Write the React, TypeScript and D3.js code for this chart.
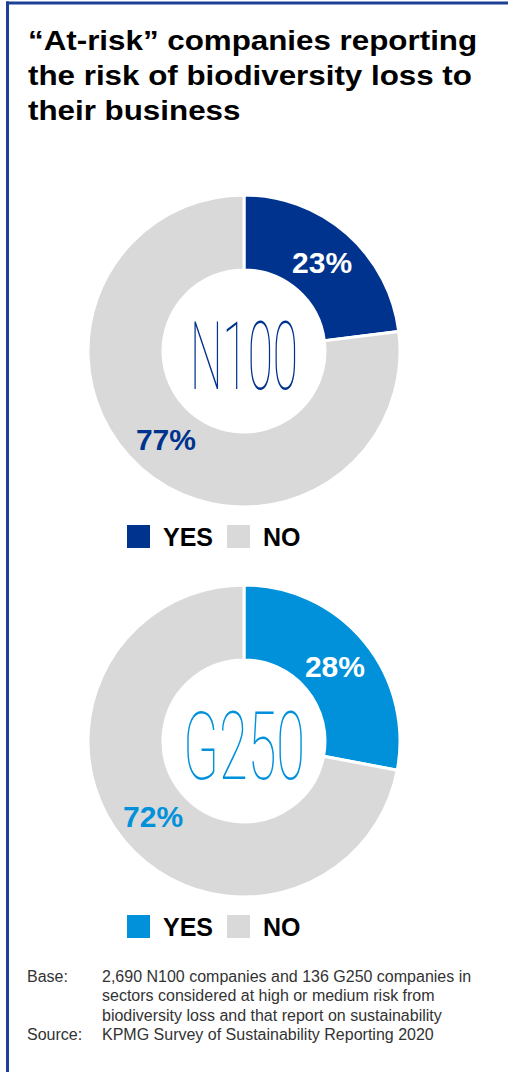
import React from "react";
import * as d3 from "d3";

const titleLines = ["“At-risk” companies reporting", "the risk of biodiversity loss to", "their business"];
const groups = ["N100", "G250"];
const categories = ["YES", "NO"];
const n100Values = [23, 77];
const g250Values = [28, 72];
const yesColors = ["#00338D", "#0091DA"];
const noColor = "#D9D9D9";
const footLabels = ["Base:", "", "", "Source:"];
const footTexts = [
  "2,690 N100 companies and 136 G250 companies in",
  "sectors considered at high or medium risk from",
  "biodiversity loss and that report on sustainability",
  "KPMG Survey of Sustainability Reporting 2020",
];

const W = 508;
const H = 1072;
const border = "#1E3F96";

function Donut({ cx, cy, values, color, name }: { cx: number; cy: number; values: number[]; color: string; name: string }) {
  const outerR = 156;
  const innerR = 81;
  const pie = d3.pie<number>().sort(null).value((d) => d);
  const arcs = pie(values);
  const arc = d3.arc<d3.PieArcDatum<number>>().innerRadius(innerR).outerRadius(outerR);
  const labelArc = d3.arc<d3.PieArcDatum<number>>().innerRadius(118).outerRadius(118);
  const fills = [color, noColor];
  const labelFills = ["#FFFFFF", color];
  const fs = 30;
  return (
    <g transform={`translate(${cx},${cy})`}>
      {arcs.map((a, i) => (
        <path key={i} d={arc(a) || ""} fill={fills[i]} stroke="#FFFFFF" strokeWidth={3} />
      ))}
      {arcs.map((a, i) => {
        const [x, y] = labelArc.centroid(a);
        return (
          <text key={"l" + i} x={x} y={y + fs * 0.36} textAnchor="middle" fontFamily="Liberation Sans, Arial, sans-serif" fontWeight="bold" fontSize={fs} fill={labelFills[i]}>
            {values[i]}%
          </text>
        );
      })}
      <text x={0} y={38} textAnchor="middle" fontFamily="Roboto, DejaVu Sans, sans-serif" fontWeight={100} fontSize={94} fill={color} textLength={name === "N100" ? 108 : 122} lengthAdjust="spacingAndGlyphs">
        {name}
      </text>
    </g>
  );
}

function Legend({ y, color }: { y: number; color: string }) {
  const x = d3.scaleOrdinal<string, number>().domain(categories).range([127, 227]);
  const fills = [color, noColor];
  return (
    <g>
      {categories.map((c, i) => (
        <g key={c}>
          <rect x={x(c)} y={y} width={23} height={23} fill={fills[i]} />
          <text x={(x(c) as number) + 36} y={y + 21} fontFamily="Liberation Sans, Arial, sans-serif" fontWeight="bold" fontSize={25} fill="#000">
            {c}
          </text>
        </g>
      ))}
    </g>
  );
}

export default function App() {
  const centersY = d3.scaleOrdinal<string, number>().domain(groups).range([351, 741]);
  const valuesByGroup = [n100Values, g250Values];
  return (
    <svg width={W} height={H} style={{ position: "fixed", left: 0, top: 0, display: "block", background: "#fff" }}>
      <rect x={0} y={0} width={W} height={H} fill="#fff" />
      <line x1={6} y1={3} x2={W} y2={3} stroke={border} strokeWidth={3} />
      <line x1={7.5} y1={1.5} x2={7.5} y2={H} stroke={border} strokeWidth={3} />
      <g transform="translate(28,0) scale(1.1,1)">
        {titleLines.map((t, i) => (
          <text key={i} x={0} y={50 + i * 35} fontFamily="Liberation Sans, Arial, sans-serif" fontWeight="bold" fontSize={28.5} fill="#000">
            {t}
          </text>
        ))}
      </g>
      {groups.map((g, i) => (
        <g key={g}>
          <Donut cx={244} cy={centersY(g) as number} values={valuesByGroup[i]} color={yesColors[i]} name={g} />
          <Legend y={(centersY(g) as number) + 174} color={yesColors[i]} />
        </g>
      ))}
      {footTexts.map((t, i) => (
        <g key={i}>
          <text x={27} y={982 + i * 19.3} fontFamily="Liberation Sans, Arial, sans-serif" fontSize={16} fill="#333">
            {footLabels[i]}
          </text>
          <text x={102} y={982 + i * 19.3} fontFamily="Liberation Sans, Arial, sans-serif" fontSize={16} fill="#333">
            {t}
          </text>
        </g>
      ))}
    </svg>
  );
}
